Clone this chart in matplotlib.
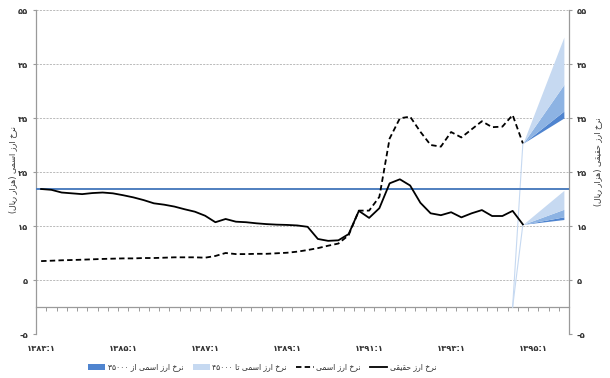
import re
import matplotlib
matplotlib.use("Agg")
import matplotlib.pyplot as plt
from matplotlib.patches import Patch
from matplotlib.lines import Line2D
from matplotlib import font_manager
from matplotlib.ft2font import FT2Font

# ---------------- data ----------------
years = list(range(1383, 1396))
categories = [f"{y}:{q}" for y in years for q in range(1, 5)]   # 1383:1 ... 1395:4
tick_categories = ["1383:1", "1385:1", "1387:1", "1389:1", "1391:1", "1393:1", "1395:1"]

# historical series (thousand rials), 1383:1 ... 1394:4
real_rate = [21.85, 21.7, 21.2, 21.05, 20.9, 21.1, 21.2, 21.05, 20.7, 20.3,
             19.8, 19.2, 18.95, 18.6, 18.1, 17.65, 16.9, 15.7, 16.3, 15.8,
             15.7, 15.5, 15.35, 15.25, 15.2, 15.1, 14.85, 12.6, 12.25, 12.35,
             13.5, 17.8, 16.5, 18.3, 22.9, 23.65, 22.5, 19.3, 17.35, 17.0,
             17.55, 16.6, 17.35, 17.95, 16.85, 16.85, 17.8, 15.3]
nominal_rate = [8.5, 8.57, 8.65, 8.7, 8.76, 8.83, 8.9, 8.95, 9.0, 9.0,
                9.07, 9.07, 9.13, 9.2, 9.2, 9.2, 9.13, 9.45, 10.0, 9.8,
                9.8, 9.85, 9.85, 9.95, 10.05, 10.25, 10.55, 10.9, 11.35, 11.75,
                13.3, 17.85, 17.85, 20.4, 31.2, 34.95, 35.25, 32.45, 30.0, 29.7,
                32.4, 31.4, 32.9, 34.4, 33.3, 33.4, 35.55, 30.3]

reference_level = 21.85          # horizontal reference line

# forecast fans (values at 1394:4 and 1395:4)
fan_categories = ["1394:4", "1395:4"]
lead_in_category = "1394:3"
lead_in_value = 0.0
nominal_fan_low = [30.3, 35.0]
nominal_fan_dark = [30.3, 36.3]
nominal_fan_mid = [30.3, 41.2]
nominal_fan_high = [30.3, 50.0]
real_fan_low = [15.3, 16.2]
real_fan_dark = [15.3, 16.7]
real_fan_mid = [15.3, 18.1]
real_fan_high = [15.3, 21.6]

y_ticks = [-5, 5, 15, 25, 35, 45, 55]

label_real = "نرخ ارز حقیقی"
label_nominal = "نرخ ارز اسمی"
label_to45 = "نرخ ارز اسمی تا ۴۵۰۰۰"
label_from35 = "نرخ ارز اسمی از ۳۵۰۰۰"
ylabel_left = "نرخ ارز اسمی (هزار ریال)"
ylabel_right = "نرخ ارز حقیقی (هزار ریال)"

# ---------------- Persian text shaping (matplotlib has no RTL shaping) ----------------
FONT = "DejaVu Sans"
_cmap = FT2Font(font_manager.findfont(FONT)).get_charmap()
_yeh = (0xFBFC, 0xFBFD, 0xFBFE, 0xFBFF) if all(c in _cmap for c in range(0xFBFC, 0xFC00)) \
    else (0xFEEF, 0xFEF0, 0xFEF3, 0xFEF4)
FORMS = {  # isolated, final, initial, medial
    "ا": (0xFE8D, 0xFE8E, None, None),
    "ت": (0xFE95, 0xFE96, 0xFE97, 0xFE98),
    "ح": (0xFEA1, 0xFEA2, 0xFEA3, 0xFEA4),
    "خ": (0xFEA5, 0xFEA6, 0xFEA7, 0xFEA8),
    "ر": (0xFEAD, 0xFEAE, None, None),
    "ز": (0xFEAF, 0xFEB0, None, None),
    "س": (0xFEB1, 0xFEB2, 0xFEB3, 0xFEB4),
    "ق": (0xFED5, 0xFED6, 0xFED7, 0xFED8),
    "ل": (0xFEDD, 0xFEDE, 0xFEDF, 0xFEE0),
    "م": (0xFEE1, 0xFEE2, 0xFEE3, 0xFEE4),
    "ن": (0xFEE5, 0xFEE6, 0xFEE7, 0xFEE8),
    "ه": (0xFEE9, 0xFEEA, 0xFEEB, 0xFEEC),
    "ی": _yeh,
}


def _dual(ch):
    return ch in FORMS and FORMS[ch][2] is not None


def shape(s):
    out = []
    for k, ch in enumerate(s):
        if ch not in FORMS:
            out.append(ch)
            continue
        prev = s[k - 1] if k > 0 else ""
        nxt = s[k + 1] if k + 1 < len(s) else ""
        pc = _dual(prev)
        nc = _dual(ch) and nxt in FORMS
        iso, fin, ini, med = FORMS[ch]
        if pc and nc:
            code = med
        elif pc:
            code = fin
        elif nc:
            code = ini
        else:
            code = iso
        out.append(chr(code))
    return "".join(out)


_mirror = str.maketrans("()", ")(")


def rtl(s):
    shaped = shape(s)
    tokens = re.findall(r"[0-9\u06F0-\u06F9]+|[^0-9\u06F0-\u06F9]+", shaped)
    parts = []
    for t in reversed(tokens):
        if re.fullmatch(r"[0-9\u06F0-\u06F9]+", t):
            parts.append(t)
        else:
            parts.append(t[::-1].translate(_mirror))
    return "".join(parts)


_fa_digits = str.maketrans("0123456789-", "۰۱۲۳۴۵۶۷۸۹-")


def fa(s):
    return str(s).translate(_fa_digits)


# ---------------- plot ----------------
plt.rcParams["font.family"] = [FONT]
W, H, DPI = 610, 378, 100
fig = plt.figure(figsize=(W / DPI, H / DPI), dpi=DPI)
ax = fig.add_axes([36 / W, 1 - 334 / H, (569 - 36) / W, (334 - 10) / H])

pos = {c: i for i, c in enumerate(categories)}
x_hist = [pos[c] for c in categories[:len(real_rate)]]
x_fan = [pos[c] for c in fan_categories]

grid_c = "#b0b0b0"
axis_c = "#9a9a9a"
txt_c = "#333333"
dark_c = "#4f84cf"
mid_c = "#8db3e3"
light_c = "#c6d9f1"

# fans
for low, dark, mid, high in [(nominal_fan_low, nominal_fan_dark, nominal_fan_mid, nominal_fan_high),
                             (real_fan_low, real_fan_dark, real_fan_mid, real_fan_high)]:
    ax.fill_between(x_fan, low, dark, color=dark_c, lw=0, zorder=2)
    ax.fill_between(x_fan, dark, mid, color=mid_c, lw=0, zorder=2)
    ax.fill_between(x_fan, mid, high, color=light_c, lw=0, zorder=2)
    ax.plot([pos[lead_in_category], x_fan[0]], [lead_in_value, low[0]],
            color=light_c, lw=0.8, zorder=2)

ax.axhline(reference_level, color="#4f7fbf", lw=1.4, zorder=3)
ax.plot(x_hist, nominal_rate, color="black", lw=1.3, ls=(0, (3.0, 1.8)), zorder=4)
ax.plot(x_hist, real_rate, color="black", lw=1.3, zorder=4)

ax.set_xlim(-0.5, len(categories) - 0.5)
ax.set_ylim(-5, 55)

# grid
for yv in y_ticks:
    ax.axhline(yv, color=grid_c, lw=0.6, ls=(0, (2.5, 1.5)), zorder=1)

for side in ["top", "bottom"]:
    ax.spines[side].set_visible(False)
for side in ["left", "right"]:
    ax.spines[side].set_color(axis_c)
    ax.spines[side].set_linewidth(0.9)

ax.set_yticks(y_ticks)
ax.set_yticklabels([fa(v) for v in y_ticks], fontweight="bold")
ax.tick_params(axis="y", length=2.5, color=axis_c, labelsize=6, labelcolor=txt_c, pad=3,
               right=True, labelright=True, direction="out")
ax.set_xticks([pos[c] for c in tick_categories])
ax.set_xticklabels([fa(c) for c in tick_categories], fontweight="bold")
ax.tick_params(axis="x", length=0, labelsize=6, labelcolor=txt_c, pad=7)

# category axis at y = 0
sec = ax.secondary_xaxis((0 - (-5)) / 60)
sec.set_xticks([i - 0.5 for i in range(len(categories) + 1)])
sec.tick_params(axis="x", length=3, color=axis_c, width=0.7, labelbottom=False, direction="out")
sec.spines["bottom"].set_color(axis_c)
sec.spines["bottom"].set_linewidth(0.9)

# axis titles
fig.text(13 / W, 1 - 170 / H, rtl(ylabel_left), rotation=90, ha="center", va="center",
         fontsize=5.8, color=txt_c)
fig.text(598 / W, 1 - 162 / H, rtl(ylabel_right), rotation=90, ha="center", va="center",
         fontsize=5.8, color=txt_c)

# legend
handles = [Patch(facecolor=dark_c, edgecolor="none"),
           Patch(facecolor=light_c, edgecolor="none"),
           Line2D([], [], color="black", lw=1.3, ls=(0, (3.0, 1.8))),
           Line2D([], [], color="black", lw=1.3)]
labels = [rtl(label_from35), rtl(label_to45), rtl(label_nominal), rtl(label_real)]
fig.legend(handles, labels, loc="center", bbox_to_anchor=(262 / W, 1 - 367 / H), ncol=4,
           frameon=False, fontsize=5.5, handlelength=2.3, handleheight=0.7, handletextpad=0.3,
           columnspacing=1.2, labelcolor=txt_c)

fig.savefig("out.png", dpi=DPI)
